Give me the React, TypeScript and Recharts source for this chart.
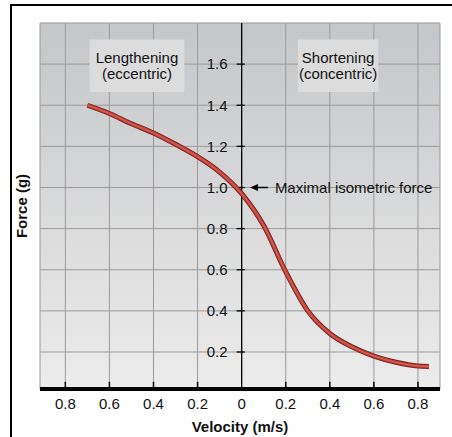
import {
  LineChart,
  Line,
  XAxis,
  YAxis,
  CartesianGrid,
  ReferenceLine,
  ReferenceArea,
} from "recharts";

// velocity (m/s): negative = lengthening, positive = shortening
const VELOCITY = [-0.7, -0.6, -0.5, -0.4, -0.3, -0.2, -0.1, 0, 0.1, 0.2, 0.3, 0.4, 0.5, 0.6, 0.7, 0.8, 0.85];
const FORCE = [1.4, 1.36, 1.31, 1.265, 1.21, 1.15, 1.075, 0.97, 0.815, 0.59, 0.4, 0.29, 0.225, 0.18, 0.15, 0.132, 0.13];

const X_TICKS = [-0.8, -0.6, -0.4, -0.2, 0, 0.2, 0.4, 0.6, 0.8];
const Y_TICKS = [0.2, 0.4, 0.6, 0.8, 1.0, 1.2, 1.4, 1.6];

const data = VELOCITY.map((v, i) => ({ velocity: v, force: FORCE[i] }));

const FONT = "'Liberation Sans', Arial, Helvetica, sans-serif";

const boxLabel = (lines: string[]) => (props: any) => {
  const { x, y, width, height } = props.viewBox;
  const cx = x + width / 2;
  const cy = y + height / 2;
  return (
    <text x={cx} textAnchor="middle" fontSize={15} fontFamily={FONT} fill="#111">
      <tspan x={cx} y={cy - 3}>{lines[0]}</tspan>
      <tspan x={cx} y={cy + 13}>{lines[1]}</tspan>
    </text>
  );
};

const arrowShape = (props: any) => {
  const { x1, y1, x2, y2 } = props;
  const left = Math.min(x1, x2);
  const right = Math.max(x1, x2);
  return (
    <g>
      <line x1={left + 6} y1={y1} x2={right} y2={y2} stroke="#000" strokeWidth={1.5} />
      <polygon points={`${left},${y1} ${left + 8},${y1 - 3.5} ${left + 8},${y1 + 3.5}`} fill="#000" />
    </g>
  );
};

export default function App() {
  return (
    <div style={{ position: "absolute", left: 0, top: 0, width: 452, height: 437, background: "#fff", overflow: "hidden" }}>
      <div
        style={{
          position: "absolute",
          left: 10,
          top: 4,
          width: 460,
          height: 460,
          borderTop: "2px solid #000",
          borderLeft: "2px solid #000",
        }}
      />
      <div style={{ position: "absolute", left: 0, top: 0 }}>
        <LineChart width={452} height={437} data={data} margin={{ top: 23, right: 12, left: 4, bottom: 0 }}>
          <defs>
            <linearGradient id="bg" x1="0" y1="0" x2="0" y2="1">
              <stop offset="0%" stopColor="#c5c6c8" />
              <stop offset="100%" stopColor="#ececec" />
            </linearGradient>
          </defs>
          <CartesianGrid fill="url(#bg)" fillOpacity={1} stroke="#9a9a9a" strokeWidth={1} />
          <XAxis
            type="number"
            dataKey="velocity"
            domain={[-0.915, 0.9]}
            ticks={X_TICKS}
            tickFormatter={(v: number) => (v === 0 ? "0" : Math.abs(v).toFixed(1))}
            axisLine={{ stroke: "#000", strokeWidth: 4 }}
            tickLine={false}
            tickSize={0}
            tickMargin={9}
            tick={{ fill: "#111", fontSize: 15, fontFamily: FONT }}
            height={48}
            label={{
              value: "Velocity (m/s)",
              position: "insideBottom",
              offset: 5,
              fill: "#111",
              fontSize: 15,
              fontWeight: "bold",
              fontFamily: FONT,
            }}
          />
          <YAxis
            type="number"
            domain={[0.02, 1.8]}
            ticks={Y_TICKS}
            tick={() => <g />}
            axisLine={false}
            tickLine={false}
            width={36}
            label={{
              value: "Force (g)",
              angle: -90,
              position: "center",
              fill: "#111",
              fontSize: 15,
              fontWeight: "bold",
              fontFamily: FONT,
            }}
          />

          <ReferenceArea x1={-0.69} x2={-0.26} y1={1.465} y2={1.72} fill="#dcdcdd" fillOpacity={1} stroke="none" label={boxLabel(["Lengthening", "(eccentric)"])} />
          <ReferenceArea x1={0.255} x2={0.62} y1={1.465} y2={1.72} fill="#dcdcdd" fillOpacity={1} stroke="none" label={boxLabel(["Shortening", "(concentric)"])} />

          <ReferenceLine x={0} stroke="#000" strokeWidth={1.3} />
          {X_TICKS.filter((t) => t !== 0).map((t) => (
            <ReferenceLine
              key={"xt" + t}
              segment={[
                { x: t, y: 0.02 },
                { x: t, y: 0.055 },
              ]}
              stroke="#000"
              strokeWidth={1.5}
            />
          ))}
          {Y_TICKS.map((t) => (
            <ReferenceLine
              key={"yt" + t}
              segment={[
                { x: -0.023, y: t },
                { x: 0.014, y: t },
              ]}
              stroke="#000"
              strokeWidth={1.3}
              label={{ value: t.toFixed(1), position: "left", offset: 9, fill: "#111", fontSize: 15, fontFamily: FONT }}
            />
          ))}

          <ReferenceLine
            segment={[
              { x: 0.038, y: 1.0 },
              { x: 0.119, y: 1.0 },
            ]}
            shape={arrowShape}
            label={{ value: "Maximal isometric force", position: "right", offset: 7, fill: "#111", fontSize: 15, fontFamily: FONT }}
          />

          <Line type="monotone" dataKey="force" stroke="#7a241e" strokeWidth={5} dot={false} activeDot={false} isAnimationActive={false} />
          <Line type="monotone" dataKey="force" stroke="#c2423a" strokeWidth={3.2} dot={false} activeDot={false} isAnimationActive={false} />
          <Line type="monotone" dataKey="force" stroke="#d8675e" strokeWidth={1} dot={false} activeDot={false} isAnimationActive={false} />
        </LineChart>
      </div>
    </div>
  );
}
